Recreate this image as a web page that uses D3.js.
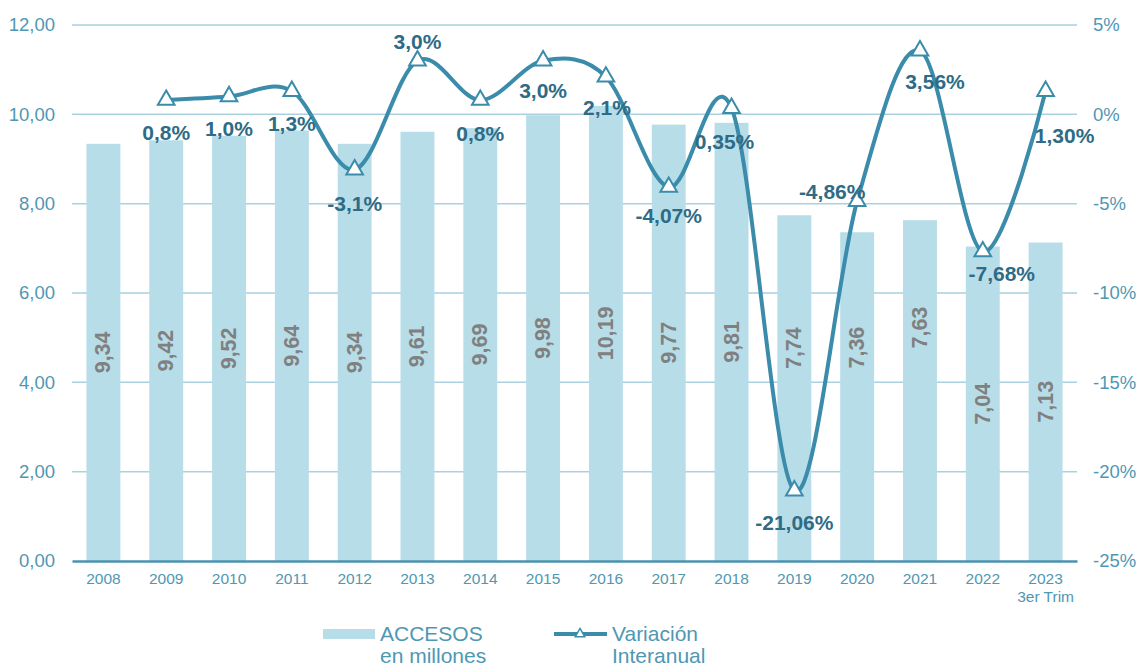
<!DOCTYPE html>
<html>
<head>
<meta charset="utf-8">
<script src="https://cdn.jsdelivr.net/npm/d3@7"></script>
<style>
  html, body { margin: 0; padding: 0; background: #fff; }
  svg { display: block; font-family: "Liberation Sans", Arial, sans-serif; }
</style>
</head>
<body>
<svg id="chart" width="1145" height="667"></svg>
<script>
// ---- data ----
const years = ["2008","2009","2010","2011","2012","2013","2014","2015","2016","2017","2018","2019","2020","2021","2022","2023"];
const yearSub = {"2023": "3er Trim"};
const accesos = [9.34, 9.42, 9.52, 9.64, 9.34, 9.61, 9.69, 9.98, 10.19, 9.77, 9.81, 7.74, 7.36, 7.63, 7.04, 7.13];
const variacionYears = ["2009","2010","2011","2012","2013","2014","2015","2016","2017","2018","2019","2020","2021","2022","2023"];
const variacion = [0.8, 1.0, 1.3, -3.1, 3.0, 0.8, 3.0, 2.1, -4.07, 0.35, -21.06, -4.86, 3.56, -7.68, 1.30];
const variacionText = ["0,8%","1,0%","1,3%","-3,1%","3,0%","0,8%","3,0%","2,1%","-4,07%","0,35%","-21,06%","-4,86%","3,56%","-7,68%","1,30%"];
const leftTicks = [0, 2, 4, 6, 8, 10, 12];
const rightTicks = [-25, -20, -15, -10, -5, 0, 5];
const seriesNames = ["ACCESOS\nen millones", "Variación\nInteranual"];

// ---- label placement (offsets in px from the marker) ----
const lineLabelOffset = [[0,32],[0,32],[0,32],[0,34],[0,-19],[0,33],[0,30],[1,31],[0,28],[-7,33],[0,32],[-25,-10],[15,31],[19,22],[19,44]];
const barLabelNudge = {"2019": -40, "2020": -49, "2021": -63};

// ---- styles ----
const barColor = "#b7dde8";
const lineColor = "#3b8bab";
const axisColor = "#4a93b0";
const gridColor = "#a9d1df";
const tickColor = "#4f97b3";
const labelDark = "#2e6b86";
const barLabelColor = "#808080";
const FONT = "Liberation Sans, Arial, sans-serif";

const svg = d3.select("#chart");
const m = {left: 72, right: 1077, top: 25, bottom: 561};

const x = d3.scaleBand().domain(years).range([m.left, m.right]).paddingInner(0.46).paddingOuter(0.23);
const yL = d3.scaleLinear().domain([0, 12]).range([m.bottom, m.top]);
const yR = d3.scaleLinear().domain([-25, 5]).range([m.bottom, m.top]);

// gridlines
svg.append("g").selectAll("line").data(leftTicks.filter(d => d > 0)).join("line")
  .attr("x1", m.left).attr("x2", m.right)
  .attr("y1", d => yL(d)).attr("y2", d => yL(d))
  .attr("stroke", gridColor).attr("stroke-width", 1.5);

// left axis
const leftAxis = svg.append("g").attr("transform", `translate(${m.left},0)`)
  .call(d3.axisLeft(yL).tickValues(leftTicks).tickSize(0).tickPadding(17)
    .tickFormat(d => d3.format(".2f")(d).replace(".", ",")));
leftAxis.select(".domain").remove();
leftAxis.selectAll("text").attr("fill", tickColor).style("font-size", "18.5px").style("font-family", FONT);

// right axis
const rightAxis = svg.append("g").attr("transform", `translate(${m.right},0)`)
  .call(d3.axisRight(yR).tickValues(rightTicks).tickSize(0).tickPadding(16).tickFormat(d => d + "%"));
rightAxis.select(".domain").remove();
rightAxis.selectAll("text").attr("fill", tickColor).style("font-size", "18.5px").style("font-family", FONT);

// bars
svg.append("g").selectAll("rect").data(accesos).join("rect")
  .attr("x", (d, i) => x(years[i]))
  .attr("width", x.bandwidth())
  .attr("y", d => yL(d))
  .attr("height", d => yL(0) - yL(d))
  .attr("fill", barColor);

// bar labels (rotated)
svg.append("g").selectAll("text").data(accesos).join("text")
  .attr("transform", (d, i) => {
    const cx = x(years[i]) + x.bandwidth() / 2;
    const cy = (yL(d) + yL(0)) / 2 + (barLabelNudge[years[i]] || 0);
    return `translate(${cx},${cy}) rotate(-90)`;
  })
  .attr("text-anchor", "middle").attr("dominant-baseline", "central")
  .attr("fill", barLabelColor).style("font-size", "21.5px").style("font-weight", "bold")
  .text(d => d3.format(".2f")(d).replace(".", ","));

// x axis baseline
const xAxis = svg.append("g").attr("transform", `translate(0,${m.bottom})`)
  .call(d3.axisBottom(x).tickSize(0).tickPadding(12));
xAxis.select(".domain").attr("stroke", axisColor).attr("stroke-width", 2.5);
xAxis.selectAll("text").attr("fill", tickColor).style("font-size", "15.5px").style("font-family", FONT);
xAxis.selectAll(".tick").filter(d => yearSub[d]).append("text")
  .attr("y", 30).attr("dy", "0.71em").attr("fill", tickColor)
  .attr("text-anchor", "middle")
  .style("font-size", "15.5px").style("font-family", FONT)
  .text(d => yearSub[d]);

// line
const pts = variacion.map((v, i) => [x(variacionYears[i]) + x.bandwidth() / 2, yR(v)]);
svg.append("path").datum(pts)
  .attr("d", d3.line().curve(d3.curveCardinal.tension(0)))
  .attr("fill", "none").attr("stroke", lineColor).attr("stroke-width", 4);

// markers
const tri = d3.symbol().type(d3.symbolTriangle).size(120);
svg.append("g").selectAll("path").data(pts).join("path")
  .attr("transform", d => `translate(${d[0]},${d[1]})`)
  .attr("d", tri())
  .attr("fill", "#fff").attr("stroke", lineColor).attr("stroke-width", 2);

// line labels
svg.append("g").selectAll("text").data(pts).join("text")
  .attr("x", (d, i) => d[0] + lineLabelOffset[i][0])
  .attr("y", (d, i) => d[1] + lineLabelOffset[i][1])
  .attr("text-anchor", "middle").attr("dominant-baseline", "central")
  .attr("fill", labelDark).style("font-size", "21px").style("font-weight", "bold")
  .text((d, i) => variacionText[i]);

// legend
const lg = svg.append("g");
lg.append("rect").attr("x", 323).attr("y", 629).attr("width", 52).attr("height", 10).attr("fill", barColor);
const t1 = lg.append("text").attr("x", 380).attr("y", 641).attr("fill", tickColor).style("font-size", "21px");
seriesNames[0].split("\n").forEach((s, i) => t1.append("tspan").attr("x", 380).attr("dy", i ? 22 : 0).text(s));
lg.append("line").attr("x1", 554).attr("x2", 607).attr("y1", 634).attr("y2", 634).attr("stroke", lineColor).attr("stroke-width", 4);
lg.append("path").attr("transform", "translate(580,634)").attr("d", d3.symbol().type(d3.symbolTriangle).size(40)())
  .attr("fill", "#fff").attr("stroke", lineColor).attr("stroke-width", 1.5);
const t2 = lg.append("text").attr("x", 612).attr("y", 641).attr("fill", tickColor).style("font-size", "21px");
seriesNames[1].split("\n").forEach((s, i) => t2.append("tspan").attr("x", 612).attr("dy", i ? 22 : 0).text(s));
</script>
</body>
</html>
